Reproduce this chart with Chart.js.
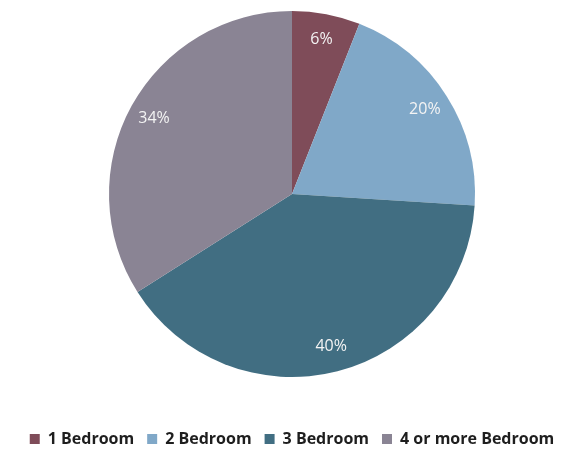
<!DOCTYPE html>
<html>
<head>
<meta charset="utf-8">
<script src="https://cdn.jsdelivr.net/npm/chart.js@4/dist/chart.umd.min.js"></script>
<style>
  html, body { margin: 0; padding: 0; background: #ffffff; }
  #wrap { width: 571px; height: 453px; position: relative; }
</style>
</head>
<body>
<div id="wrap"><canvas id="chart"></canvas></div>
<script>
// Share of dwellings by number of bedrooms
const categories = ['1 Bedroom', '2 Bedroom', '3 Bedroom', '4 or more Bedroom'];
const shares = [6, 20, 40, 34];
const sliceColors = ['#7f4c59', '#80a8c8', '#416e82', '#8a8494'];

// Writes each slice's percentage near the outer edge of its arc
const sliceLabels = {
  id: 'sliceLabels',
  afterDatasetsDraw(chart) {
    const ctx = chart.ctx;
    const meta = chart.getDatasetMeta(0);
    ctx.save();
    ctx.font = '16px "Open Sans", sans-serif';
    ctx.fillStyle = '#f4f4f4';
    ctx.textAlign = 'center';
    ctx.textBaseline = 'middle';
    meta.data.forEach((arc, i) => {
      const p = arc.getProps(['x', 'y', 'startAngle', 'endAngle', 'outerRadius'], true);
      const mid = (p.startAngle + p.endAngle) / 2;
      const r = p.outerRadius * 0.86;
      ctx.fillText(shares[i] + '%', p.x + Math.cos(mid) * r, p.y + Math.sin(mid) * r);
    });
    ctx.restore();
  }
};

new Chart(document.getElementById('chart'), {
  type: 'pie',
  data: {
    labels: categories,
    datasets: [{
      data: shares,
      backgroundColor: sliceColors,
      borderWidth: 0
    }]
  },
  options: {
    responsive: true,
    maintainAspectRatio: false,
    animation: false,
    layout: { padding: { top: 11, left: 13, right: 0, bottom: -4 } },
    plugins: {
      tooltip: { enabled: false },
      legend: {
        position: 'bottom',
        title: { display: true, text: '', font: { size: 10, lineHeight: 1 }, padding: { top: 31, bottom: 0 } },
        labels: {
          boxWidth: 10,
          boxHeight: 10,
          padding: 13,
          color: '#1e1e1e',
          font: { family: '"Open Sans", sans-serif', size: 16, weight: 'bold' }
        }
      }
    }
  },
  plugins: [sliceLabels]
});
</script>
</body>
</html>
